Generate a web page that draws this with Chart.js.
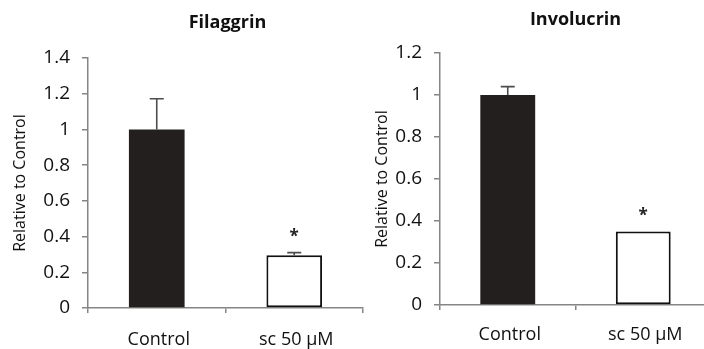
<!DOCTYPE html>
<html>
<head>
<meta charset="utf-8">
<script src="https://cdn.jsdelivr.net/npm/chart.js@4.4.1/dist/chart.umd.min.js"></script>
<style>
    body { margin: 0; width: 704px; height: 349px; overflow: hidden; background: #fff; position: relative; }
    .panel { position: absolute; top: 0; height: 349px; }
    #panelLeft { left: 0; width: 366px; }
    #panelRight { left: 366px; width: 350px; }
</style>
</head>
<body>
<div class="panel" id="panelLeft"><canvas id="filaggrin"></canvas></div>
<div class="panel" id="panelRight"><canvas id="involucrin"></canvas></div>
<script>
// data
const categories = ["Control", "sc 50 \u00b5M"];
const filaggrinValues = [1.0, 0.295];
const filaggrinErrors = [0.172, 0.015];
const involucrinValues = [1.0, 0.35];
const involucrinErrors = [0.04, 0];
const significant = [false, true]; // asterisk above bar
const filaggrinMax = 1.4;
const involucrinMax = 1.2;
const tickStep = 0.2;

const fontFamily = "'Open Sans', 'DejaVu Sans', sans-serif";
const textColor = "#111111";
const axisGray = "#858585";
const barDark = "#231f1e";

// draws title, error bars and the significance star
const extrasPlugin = {
    id: 'extras',
    afterDatasetsDraw(chart, args, opts) {
        let ctx = chart.ctx;
        let meta = chart.getDatasetMeta(0);
        let y = chart.scales.y;
        ctx.save();
        for (let i = 0; i < opts.values.length; i++) {
            let bar = meta.data[i];
            let top = y.getPixelForValue(opts.values[i] + opts.errors[i]);
            let base = y.getPixelForValue(opts.values[i]);
            if (opts.errors[i] > 0) {
                ctx.strokeStyle = "#4d4d4d";
                ctx.lineWidth = 1.6;
                ctx.beginPath();
                ctx.moveTo(bar.x, base);
                ctx.lineTo(bar.x, top);
                ctx.moveTo(bar.x - 7, top);
                ctx.lineTo(bar.x + 7, top);
                ctx.stroke();
            }
            if (opts.stars[i]) {
                ctx.fillStyle = "#222";
                ctx.font = "bold 17px " + fontFamily;
                ctx.textAlign = "center";
                ctx.textBaseline = "alphabetic";
                ctx.fillText("*", bar.x, top - 11);
            }
        }
        // title
        let area = chart.chartArea;
        ctx.fillStyle = textColor;
        ctx.font = "bold 18px " + fontFamily;
        ctx.textAlign = "center";
        ctx.textBaseline = "alphabetic";
        ctx.fillText(opts.title, (area.left + area.right) / 2 + opts.titleDx, opts.titleBaseline);
        ctx.restore();
    }
};

function makeChart(id, title, values, errors, yMax, layout) {
    return new Chart(document.getElementById(id), {
        type: 'bar',
        data: {
            labels: categories,
            datasets: [{
                data: values,
                backgroundColor: [barDark, "#ffffff"],
                borderColor: [barDark, "#111111"],
                borderWidth: [0, 2],
                borderSkipped: false,
                categoryPercentage: 1,
                barPercentage: 0.405,
            }]
        },
        plugins: [extrasPlugin],
        options: {
            responsive: true,
            maintainAspectRatio: false,
            animation: false,
            layout: { padding: { top: layout.top, right: layout.right, left: 0, bottom: 0 } },
            plugins: {
                legend: { display: false },
                tooltip: { enabled: false },
                extras: {
                    values: values, errors: errors, stars: significant,
                    title: title, titleBaseline: layout.titleBaseline, titleDx: layout.titleDx
                }
            },
            scales: {
                x: {
                    grid: { offset: true, drawOnChartArea: false, drawTicks: true, tickLength: 5, color: axisGray, lineWidth: 1.5 },
                    border: { color: axisGray, width: 1.5 },
                    ticks: { color: textColor, font: { family: fontFamily, size: 18 }, padding: layout.xPad, labelOffset: 2 },
                    afterFit: function (s) { s.height = layout.xHeight; }
                },
                y: {
                    min: 0,
                    max: yMax,
                    ticks: {
                        stepSize: tickStep,
                        color: textColor,
                        font: { family: fontFamily, size: 19 },
                        padding: 12,
                        callback: function (v) { return String(Number(v.toFixed(1))); }
                    },
                    grid: { drawOnChartArea: false, drawTicks: true, tickLength: 6, color: axisGray, lineWidth: 1.5 },
                    border: { color: axisGray, width: 1.5 },
                    title: {
                        display: true,
                        text: "Relative to Control",
                        color: textColor,
                        font: { family: fontFamily, size: 16 },
                        padding: { top: layout.yTitlePad, bottom: 0 }
                    },
                    afterFit: function (s) { s.width = layout.yWidth; }
                }
            }
        }
    });
}

makeChart("filaggrin", "Filaggrin", filaggrinValues, filaggrinErrors, filaggrinMax,
    { top: 58, right: 3, yWidth: 88, xHeight: 41, xPad: 16, yTitlePad: 11, titleBaseline: 28, titleDx: 2 });
makeChart("involucrin", "Involucrin", involucrinValues, involucrinErrors, involucrinMax,
    { top: 53, right: 5, yWidth: 74, xHeight: 44, xPad: 14, yTitlePad: 7, titleBaseline: 25, titleDx: 0 });
</script>
</body>
</html>
